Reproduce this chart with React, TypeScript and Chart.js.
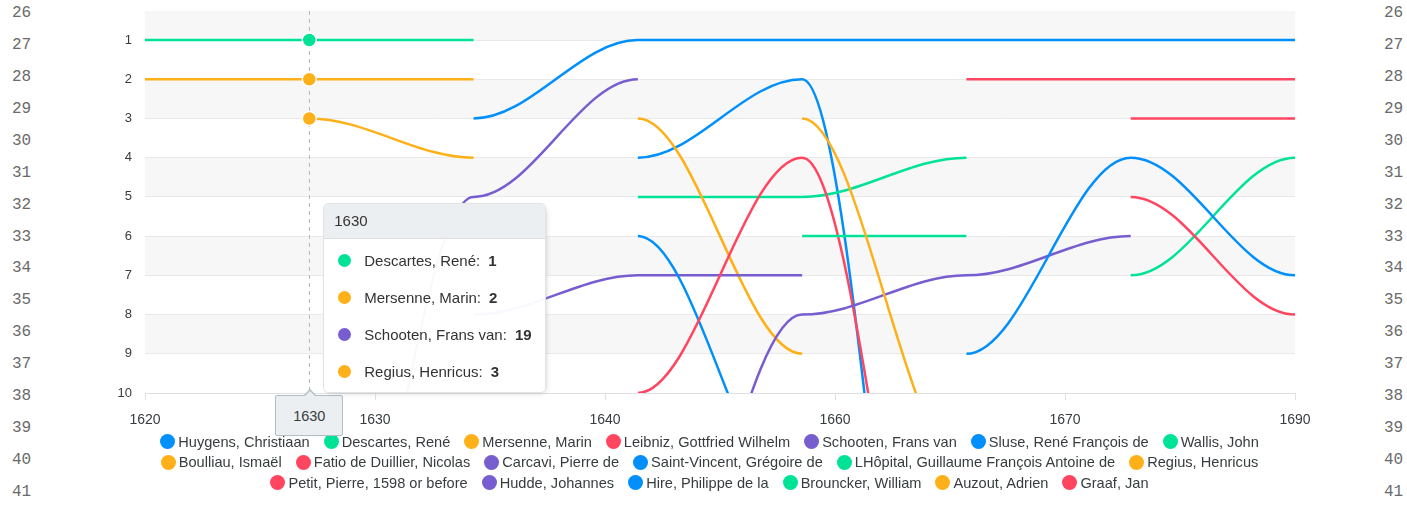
import React, { useEffect, useRef, useState } from 'react';
import { Chart, registerables } from 'chart.js';

Chart.register(...registerables);

// ---------- data ----------
const YEARS = [1620, 1630, 1640, 1650, 1660, 1670, 1680, 1690];
const X_TICK_VALUES = [1620, 1634, 1648, 1662, 1676, 1690];
const X_TICK_LABELS = ['1620', '1630', '1640', '1660', '1670', '1690'];
const RANK_TICKS = [1, 2, 3, 4, 5, 6, 7, 8, 9, 10];
const HOVER_INDEX = 1;
const GUTTER_NUMBERS = [26, 27, 28, 29, 30, 31, 32, 33, 34, 35, 36, 37, 38, 39, 40, 41];

const PALETTE = ['#008FFB', '#00E396', '#FEB019', '#FF4560', '#775DD0'];

const huygens = [null, null, 3, 1, 1, 1, 1, 1];
const descartes = [1, 1, 1, null, null, null, null, null];
const mersenne = [2, 2, 2, null, null, null, null, null];
const leibniz = [null, null, null, null, null, 2, 2, 2];
const schooten = [null, 19, 5, 2, null, null, null, null];
const sluse = [null, null, null, 4, 2, 27, null, null];
const wallis = [null, null, null, 5, 5, 4, null, null];
const boulliau = [null, null, null, 3, 9, null, null, null];
const fatio = [null, null, null, null, null, null, 3, 3];
const carcavi = [null, null, 8, 7, 7, null, null, null];
const saintVincent = [null, null, null, 6, 13, null, null, null];
const lhopital = [null, null, null, null, null, null, 7, 4];
const regius = [null, 3, 4, null, null, null, null, null];
const petit = [null, null, null, 10, 4, 21, null, null];
const hudde = [null, null, null, 17, 8, 7, 6, null];
const hire = [null, null, null, null, null, 9, 4, 7];
const brouncker = [null, null, null, null, 6, 6, null, null];
const auzout = [null, null, null, null, 3, 12, null, null];
const graaf = [null, null, null, null, null, null, 5, 8];

const SERIES_NAMES = [
  'Huygens, Christiaan',
  'Descartes, René',
  'Mersenne, Marin',
  'Leibniz, Gottfried Wilhelm',
  'Schooten, Frans van',
  'Sluse, René François de',
  'Wallis, John',
  'Boulliau, Ismaël',
  'Fatio de Duillier, Nicolas',
  'Carcavi, Pierre de',
  'Saint-Vincent, Grégoire de',
  'LHôpital, Guillaume François Antoine de',
  'Regius, Henricus',
  'Petit, Pierre, 1598 or before',
  'Hudde, Johannes',
  'Hire, Philippe de la',
  'Brouncker, William',
  'Auzout, Adrien',
  'Graaf, Jan',
];
const SERIES_VALUES: (number | null)[][] = [
  huygens, descartes, mersenne, leibniz, schooten, sluse, wallis, boulliau, fatio,
  carcavi, saintVincent, lhopital, regius, petit, hudde, hire, brouncker, auzout, graaf,
];

const FONT = '"Liberation Sans", Helvetica, Arial, sans-serif';
const TEXT = '#373d3f';
const colorOf = (i: number) => PALETTE[i % PALETTE.length];

// ---------- plugins ----------
const bandsPlugin = {
  id: 'bands',
  beforeDraw(chart: any) {
    const { ctx, chartArea } = chart;
    const y = chart.scales.y;
    ctx.save();
    const edges = [y.min, ...RANK_TICKS];
    for (let k = 0; k < edges.length - 1; k++) {
      if (k % 2 !== 0) continue;
      const a = y.getPixelForValue(edges[k]);
      const b = y.getPixelForValue(edges[k + 1]);
      ctx.fillStyle = '#f7f7f7';
      ctx.fillRect(chartArea.left, Math.min(a, b), chartArea.right - chartArea.left, Math.abs(b - a));
    }
    ctx.restore();
  },
};

const crosshairPlugin = {
  id: 'crosshair',
  beforeDatasetsDraw(chart: any) {
    const { ctx, chartArea } = chart;
    const x = Math.round(chart.scales.x.getPixelForValue(YEARS[HOVER_INDEX])) + 0.5;
    ctx.save();
    ctx.strokeStyle = '#b6b6b6';
    ctx.lineWidth = 1;
    ctx.setLineDash([4, 4]);
    ctx.beginPath();
    ctx.moveTo(x, chartArea.top);
    ctx.lineTo(x, chartArea.bottom);
    ctx.stroke();
    ctx.restore();
  },
};

// horizontal-tangent bezier between consecutive points (smooth bump curves)
const bumpCurvePlugin = {
  id: 'bumpCurve',
  beforeDatasetDraw(chart: any, args: any) {
    const meta = args.meta;
    const line = meta.dataset;
    if (!line) return;
    line.updateControlPoints(chart.chartArea, 'x');
    const pts = meta.data;
    for (let i = 0; i < pts.length; i++) {
      const p = pts[i];
      const prev = pts[i - 1];
      const next = pts[i + 1];
      const dPrev = prev ? p.x - prev.x : 0;
      const dNext = next ? next.x - p.x : 0;
      p.cp1x = p.x - 0.35 * dPrev;
      p.cp1y = p.y;
      p.cp2x = p.x + 0.35 * dNext;
      p.cp2y = p.y;
    }
  },
};

export default function App() {
  const canvasRef = useRef<HTMLCanvasElement>(null);
  const [geo, setGeo] = useState<{ x: number; top: number; bottom: number } | null>(null);

  useEffect(() => {
    const datasets = SERIES_NAMES.map((name, i) => ({
      label: name,
      data: YEARS.map((yr, j) => ({ x: yr, y: SERIES_VALUES[i][j] })),
      borderColor: colorOf(i),
      backgroundColor: colorOf(i),
      borderWidth: 2.5,
      tension: 0.3,
      spanGaps: false,
      fill: false,
      order: SERIES_NAMES.length - i,
      pointRadius: (c: any) => (c.dataIndex === HOVER_INDEX ? 7 : 0),
      pointHoverRadius: 0,
      pointBackgroundColor: colorOf(i),
      pointBorderColor: '#ffffff',
      pointBorderWidth: 1.5,
    }));

    const chart = new Chart(canvasRef.current!, {
      type: 'line',
      data: { datasets },
      plugins: [bandsPlugin, crosshairPlugin, bumpCurvePlugin],
      options: {
        animation: false,
        responsive: false,
        devicePixelRatio: 1,
        events: [],
        layout: { padding: { left: 0, right: 112, top: 11, bottom: 0 } },
        plugins: {
          legend: { display: false },
          tooltip: { enabled: false },
          title: { display: false },
        },
        scales: {
          x: {
            type: 'linear',
            min: 1620,
            max: 1690,
            afterBuildTicks: (s: any) => {
              s.ticks = X_TICK_VALUES.map((v) => ({ value: v }));
            },
            afterFit: (s: any) => {
              s.height = 113;
            },
            ticks: {
              autoSkip: false,
              maxRotation: 0,
              padding: 12,
              color: TEXT,
              font: { family: FONT, size: 14 },
              callback: (_v: any, i: number) => X_TICK_LABELS[i],
            },
            grid: { drawOnChartArea: false, drawTicks: true, tickLength: 7, color: '#e0e0e0' },
            border: { display: true, color: '#e0e0e0' },
          },
          y: {
            type: 'linear',
            reverse: true,
            min: 0.26,
            max: 10,
            afterBuildTicks: (s: any) => {
              s.ticks = RANK_TICKS.map((v) => ({ value: v }));
            },
            afterFit: (s: any) => {
              s.width = 145;
              s.paddingTop = 0;
              s.paddingBottom = 0;
            },
            ticks: {
              padding: 13,
              color: TEXT,
              font: { family: FONT, size: 13 },
              callback: (v: any) => String(v),
            },
            grid: { color: '#e9e9e9', drawTicks: false },
            border: { display: false },
          },
        },
      } as any,
    });

    setGeo({
      x: chart.scales.x.getPixelForValue(YEARS[HOVER_INDEX]),
      top: chart.chartArea.top,
      bottom: chart.chartArea.bottom,
    });

    return () => chart.destroy();
  }, []);

  const hoverItems = SERIES_NAMES.map((name, i) => ({ name, i, v: SERIES_VALUES[i][HOVER_INDEX] })).filter(
    (d) => d.v !== null && d.v !== undefined
  );

  const gutterStyle: React.CSSProperties = {
    position: 'absolute',
    top: -1.6,
    fontFamily: '"Liberation Mono", "Courier New", monospace',
    fontSize: 16,
    lineHeight: '31.88px',
    color: '#6a6a6a',
    whiteSpace: 'pre',
  };

  return (
    <div
      style={{
        position: 'fixed',
        left: 0,
        top: 0,
        width: 1407,
        height: 506,
        background: '#ffffff',
        overflow: 'hidden',
      }}
    >
      <div style={{ ...gutterStyle, left: 12 }}>
        {GUTTER_NUMBERS.map((n) => (
          <div key={n}>{n}</div>
        ))}
      </div>
      <div style={{ ...gutterStyle, left: 1384 }}>
        {GUTTER_NUMBERS.map((n) => (
          <div key={n}>{n}</div>
        ))}
      </div>

      <canvas ref={canvasRef} width={1407} height={506} style={{ position: 'absolute', left: 0, top: 0 }} />

      {/* legend */}
      <div
        style={{
          position: 'absolute',
          left: 94.5,
          top: 431.25,
          width: 1230,
          display: 'flex',
          flexWrap: 'wrap',
          justifyContent: 'center',
          fontFamily: FONT,
          fontSize: 14.6,
          color: TEXT,
        }}
      >
        {SERIES_NAMES.map((name, i) => (
          <div
            key={name}
            style={{ display: 'inline-flex', alignItems: 'center', height: 20.5, margin: '0 7px', whiteSpace: 'nowrap' }}
          >
            <span
              style={{
                display: 'inline-block',
                width: 15,
                height: 15,
                borderRadius: '50%',
                background: colorOf(i),
                marginRight: 3,
              }}
            />
            <span>{name}</span>
          </div>
        ))}
      </div>

      {geo && (
        <>
          {/* x-axis tooltip */}
          <div
            style={{
              position: 'absolute',
              left: geo.x - 34,
              top: geo.bottom + 2,
              width: 68,
              height: 41,
              boxSizing: 'border-box',
              background: '#eceff1',
              border: '1px solid #b0bec5',
              borderRadius: 2,
              fontFamily: FONT,
              fontSize: 14.5,
              color: TEXT,
              display: 'flex',
              alignItems: 'center',
              justifyContent: 'center',
            }}
          >
            1630
            <div
              style={{
                position: 'absolute',
                left: 27,
                top: -7,
                width: 0,
                height: 0,
                borderLeft: '7px solid transparent',
                borderRight: '7px solid transparent',
                borderBottom: '7px solid #b0bec5',
              }}
            />
            <div
              style={{
                position: 'absolute',
                left: 28,
                top: -5.5,
                width: 0,
                height: 0,
                borderLeft: '6px solid transparent',
                borderRight: '6px solid transparent',
                borderBottom: '6px solid #eceff1',
              }}
            />
          </div>

          {/* main tooltip */}
          <div
            style={{
              position: 'absolute',
              left: geo.x + 14,
              top: geo.top + 192,
              background: 'rgba(255,255,255,0.96)',
              border: '1px solid #e3e3e3',
              borderRadius: 5,
              boxShadow: '2px 2px 6px -4px #999',
              fontFamily: FONT,
              fontSize: 15,
              color: '#333',
              overflow: 'hidden',
            }}
          >
            <div
              style={{
                background: '#eceff1',
                borderBottom: '1px solid #ddd',
                height: 34,
                lineHeight: '34px',
                padding: '0 10px',
              }}
            >
              {YEARS[HOVER_INDEX]}
            </div>
            <div style={{ padding: '2.5px 13px 2.5px 14px' }}>
              {hoverItems.map((d) => (
                <div key={d.name} style={{ display: 'flex', alignItems: 'center', height: 37 }}>
                  <span
                    style={{
                      display: 'inline-block',
                      width: 13,
                      height: 13,
                      borderRadius: '50%',
                      background: colorOf(d.i),
                      marginRight: 13,
                    }}
                  />
                  <span>{d.name}:</span>
                  <span style={{ fontWeight: 'bold', marginLeft: 8 }}>{d.v}</span>
                </div>
              ))}
            </div>
          </div>
        </>
      )}
    </div>
  );
}
